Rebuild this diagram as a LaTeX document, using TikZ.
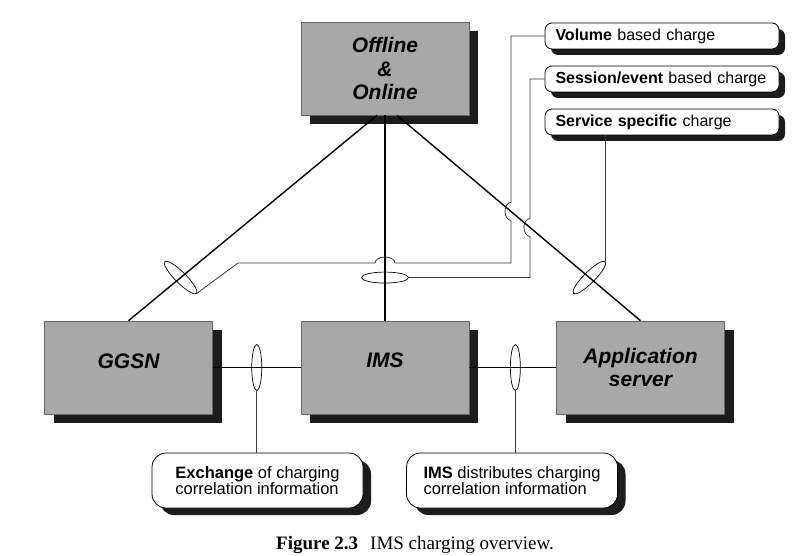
\documentclass[tikz,border=0pt]{standalone}
\usepackage{fontspec}
\setmainfont{Liberation Sans}
\newfontfamily\capfont{Liberation Serif}
\usetikzlibrary{shapes.geometric,shadows}
\definecolor{boxgray}{HTML}{A8A8A8}
\definecolor{shadegray}{HTML}{1C1C1C}
\definecolor{wiregray}{HTML}{3A3A3A}
\tikzset{
  unit/.style={draw=black!60,line width=0.6pt,fill=boxgray,minimum width=168pt,minimum height=93pt,
    inner sep=0pt,align=center,font=\fontsize{21}{23.5}\selectfont\bfseries\itshape,
    drop shadow={shadow xshift=9pt,shadow yshift=-9pt,opacity=1,fill=shadegray}},
  tagnote/.style={draw=black,line width=0.8pt,fill=white,rounded corners=7pt,minimum width=234pt,
    minimum height=26pt,inner xsep=10.5pt,inner ysep=0pt,text width=213pt,align=left,
    font=\fontsize{16}{19}\selectfont,
    drop shadow={shadow xshift=6pt,shadow yshift=-6pt,opacity=1,fill=shadegray}},
  infonote/.style={draw=black,line width=0.8pt,fill=white,rounded corners=14pt,minimum width=211pt,
    minimum height=55pt,inner sep=0pt,align=left,font=\fontsize{16.5}{16.5}\selectfont,
    drop shadow={shadow xshift=8pt,shadow yshift=-7pt,opacity=1,fill=shadegray}}
}
\begin{document}
\begin{tikzpicture}[x=1pt,y=1pt,
  link/.style={line width=1.4pt,black},
  wire/.style={line width=0.8pt,wiregray},
  ring/.style={draw=black,ellipse,line width=0.7pt,inner sep=0pt,outer sep=0pt}]
\useasboundingbox (0,0) rectangle (810,555);
% network elements
\node[unit] (off) at (385,486.5) {Offline\\\&\\Online};
\node[unit,text depth=13pt] (ggsn) at (128.5,187.5) {GGSN};
\node[unit,text depth=14pt] (ims) at (385,187.5) {IMS};
\node[unit] (as) at (640.5,187.5) {Application\\server};
% charging notes
\node[tagnote] (vol) at (662,519) {\textbf{Volume} based charge};
\node[tagnote] (sess) at (662,476) {\textbf{Session/event} based charge};
\node[tagnote] (svc) at (662,433) {\textbf{Service specific} charge};
\node[infonote] (xchg) at (257.5,74.5) {\textbf{Exchange} of charging\\correlation information};
\node[infonote] (dist) at (512,74.5) {\textbf{IMS} distributes charging\\correlation information};
\node[anchor=base,font=\capfont\fontsize{19}{22}\selectfont] (cap) at (415,6)
  {\textbf{Figure 2.3}\hspace{12pt}IMS charging overview.};
% links
\draw[link] ([xshift=-8pt]off.south) -- (ggsn.north)
  node[ring,pos=0.79,minimum width=45pt,minimum height=11pt,rotate=-45] (rg) {};
\draw[link] (off.south) -- (ims.north)
  node[ring,pos=0.79,minimum width=47pt,minimum height=11pt] (ri) {};
\draw[link] ([xshift=12pt]off.south) -- (as.north)
  node[ring,pos=0.79,minimum width=45pt,minimum height=11pt,rotate=45] (ra) {};
\draw[link] (ggsn.east) -- (ims.west)
  node[ring,midway,minimum width=10pt,minimum height=46pt] (rx) {};
\draw[link] (ims.east) -- (as.west)
  node[ring,pos=0.53,minimum width=10pt,minimum height=46pt] (rd) {};
% feeds, with hops over the links
\draw[wire] (vol.west) -| (511,352.6) arc[start angle=90,end angle=270,x radius=6pt,y radius=9pt]
  -- (511,292) -- (395,292) arc[start angle=0,end angle=180,x radius=10pt,y radius=6pt]
  -- (238,292) -- (rg.east);
\draw[wire] (sess.west) -| (530,336.5) arc[start angle=90,end angle=270,x radius=6pt,y radius=9pt]
  |- (ri.east);
\draw[wire] (ra.east |- svc.south) -- (ra.east);
%
\draw[wire] (rx.south) -- (rx.south |- xchg.north);
\draw[wire] (rd.south) -- (rd.south |- dist.north);
\end{tikzpicture}
\end{document}
